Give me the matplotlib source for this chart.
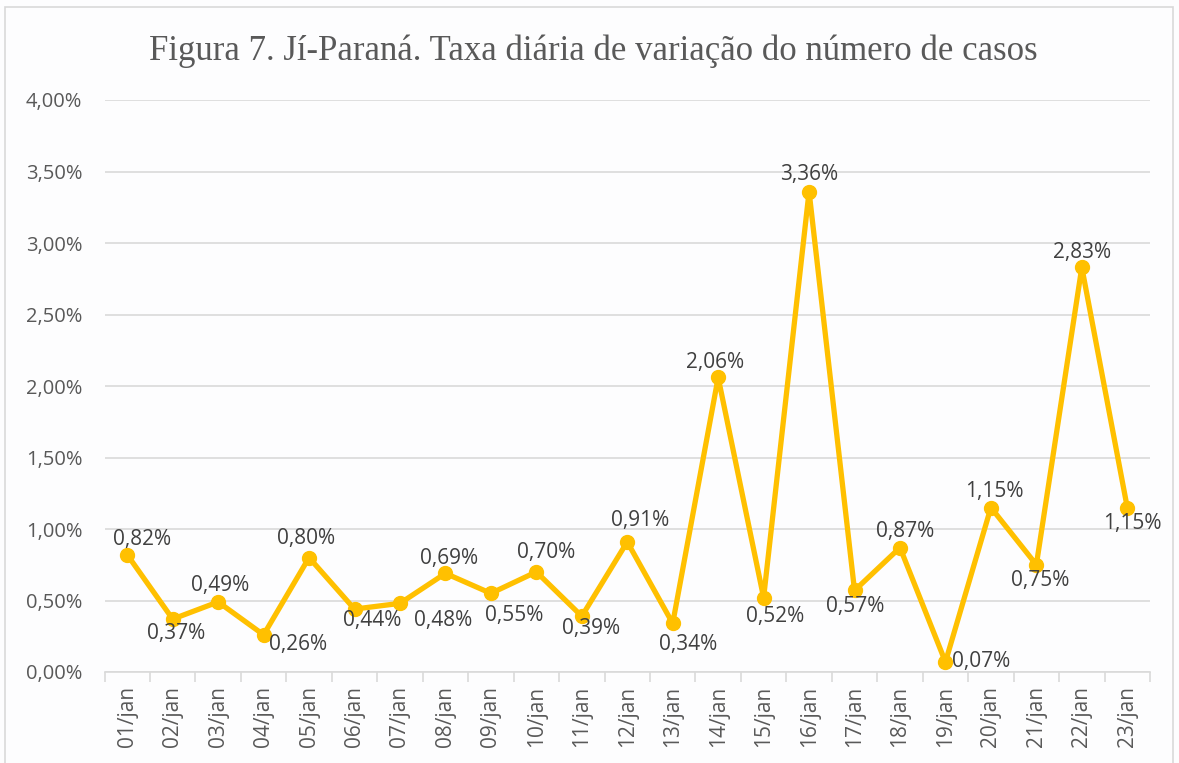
import matplotlib
matplotlib.use("Agg")
import matplotlib.pyplot as plt
from matplotlib.patches import Rectangle

categories = ["01/jan", "02/jan", "03/jan", "04/jan", "05/jan", "06/jan", "07/jan", "08/jan",
              "09/jan", "10/jan", "11/jan", "12/jan", "13/jan", "14/jan", "15/jan", "16/jan",
              "17/jan", "18/jan", "19/jan", "20/jan", "21/jan", "22/jan", "23/jan"]
values = [0.82, 0.37, 0.49, 0.26, 0.80, 0.44, 0.48, 0.69, 0.55, 0.70, 0.39, 0.91, 0.34,
          2.06, 0.52, 3.36, 0.57, 0.87, 0.07, 1.15, 0.75, 2.83, 1.15]
yticks = [0.0, 0.5, 1.0, 1.5, 2.0, 2.5, 3.0, 3.5, 4.0]
title = "Figura 7. Jí-Paraná. Taxa diária de variação do número de casos"

# label offsets in pixels (dx, dy)
offsets = [(15, 15), (3, -14), (2, 16), (34, -10), (-3, 19), (18, -11), (43, -17), (4, 15),
           (23, -22), (10, 19), (9, -12), (13, 21), (15, -21), (-3, 15), (12, -19), (0, 17),
           (1, -16), (5, 16), (36, 0), (3, 16), (4, -16), (0, 15), (5, -16)]

def fmt(v):
    return f"{v:.2f}".replace(".", ",") + "%"

W, H = 1179, 763
fig = plt.figure(figsize=(W / 100, H / 100), dpi=100)
bg = "#fdfdfe"
fig.patch.set_facecolor(bg)
fig.patches.append(Rectangle((5 / W, -0.01), (W - 11) / W, 1 - 7 / H + 0.01,
                             transform=fig.transFigure, fill=False,
                             edgecolor="#d9d9d9", linewidth=1.2))

ax = fig.add_axes([104.5 / W, 1 - 672 / H, (1150 - 104.5) / W, (672 - 100) / H])
ax.set_facecolor(bg)
x = list(range(len(categories)))
ax.plot(x, values, color="#FFC000", linewidth=3.8, marker="o", markersize=10,
        solid_joinstyle="round", zorder=3)
ax.set_xlim(-0.5, len(categories) - 0.5)
ax.set_ylim(0, 4.0)
ax.set_yticks(yticks)
ax.set_yticklabels([fmt(v) for v in yticks])
ax.grid(axis="y", color="#d9d9d9", linewidth=1.2)
ax.set_axisbelow(True)
for s in ["top", "right", "left"]:
    ax.spines[s].set_visible(False)
ax.spines["bottom"].set_color("#d9d9d9")
ax.spines["bottom"].set_linewidth(1.2)

fam = ["Open Sans", "DejaVu Sans"]
ax.set_xticks(x)
ax.set_xticklabels(categories, rotation=90, family=fam, size=15, color="#595959")
for lab in ax.get_yticklabels():
    lab.set_family(fam)
    lab.set_size(14.5)
    lab.set_color("#595959")
ax.tick_params(axis="x", length=0, pad=10)
ax.tick_params(axis="y", length=0, pad=16)
# tick marks at category boundaries
ax.set_xticks([i - 0.5 for i in range(len(categories) + 1)], minor=True)
ax.tick_params(axis="x", which="minor", length=7, color="#d9d9d9", width=1.2)

for xi, v, (dx, dy) in zip(x, values, offsets):
    ax.annotate(fmt(v), (xi, v), xytext=(dx, dy), textcoords="offset pixels",
                ha="center", va="center", family=fam,
                size=15, color="#404040", zorder=4)

fig.text(0.5 * (152 + 1035) / W, 1 - 51 / H, title, ha="center", va="center",
         family=["Liberation Serif", "DejaVu Serif"], size=25, color="#595959")

fig.savefig("out.png", dpi=100, facecolor=bg)
